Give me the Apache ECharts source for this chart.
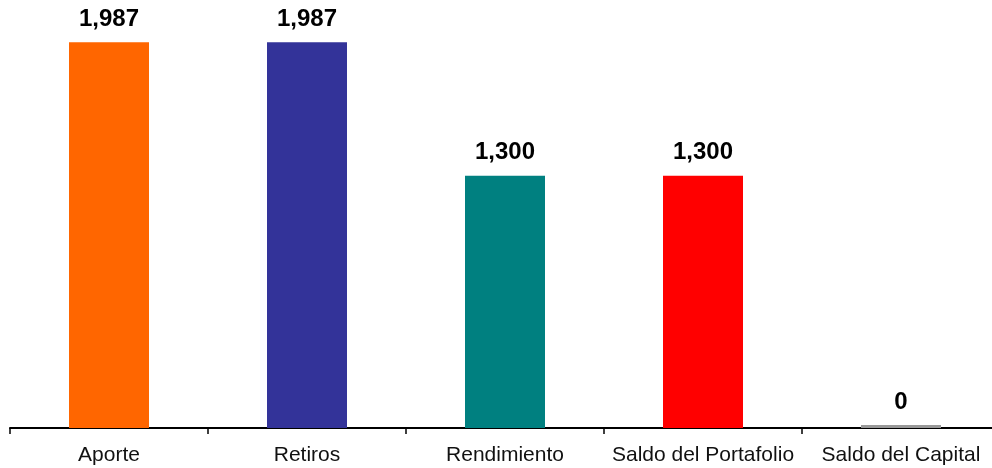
<!DOCTYPE html>
<html>
<head>
<meta charset="utf-8">
<script src="https://cdn.jsdelivr.net/npm/echarts@6/dist/echarts.min.js"></script>
<style>html,body{margin:0;padding:0;background:#fff;}#c{width:992px;height:468px;}</style>
</head>
<body>
<div id="c"></div>
<script>
var categories = ['Aporte', 'Retiros', 'Rendimiento', 'Saldo del Portafolio', 'Saldo del Capital'];
var values = [1987, 1987, 1300, 1300, 0];
var colors = ['#FF6600', '#333399', '#008080', '#FF0000', '#999999'];

var chart = echarts.init(document.getElementById('c'));
chart.setOption({
  animation: false,
  grid: { left: 10, width: 990, top: 1, bottom: 40, containLabel: false, outerBoundsMode: 'none' },
  xAxis: {
    type: 'category',
    data: categories,
    axisLine: { lineStyle: { color: '#000', width: 2 } },
    axisTick: { show: true, interval: 0, length: 6, lineStyle: { color: '#000', width: 1.5 } },
    axisLabel: { interval: 0, color: '#111', fontSize: 21, fontFamily: 'Liberation Sans, Arial, sans-serif', margin: 17 }
  },
  yAxis: {
    type: 'value', min: 0, max: 2200, show: false,
    splitLine: { show: false }
  },
  series: [{
    type: 'bar',
    barWidth: 80,
    barMinHeight: 3,
    data: values.map(function (v, i) { return { value: v, itemStyle: { color: colors[i] } }; }),
    label: {
      show: true, position: 'top', distance: 11,
      color: '#000', fontSize: 24, fontWeight: 'bold',
      fontFamily: 'Liberation Sans, Arial, sans-serif',
      formatter: function (p) { return p.value.toLocaleString('en-US'); }
    }
  }]
});
</script>
</body>
</html>
